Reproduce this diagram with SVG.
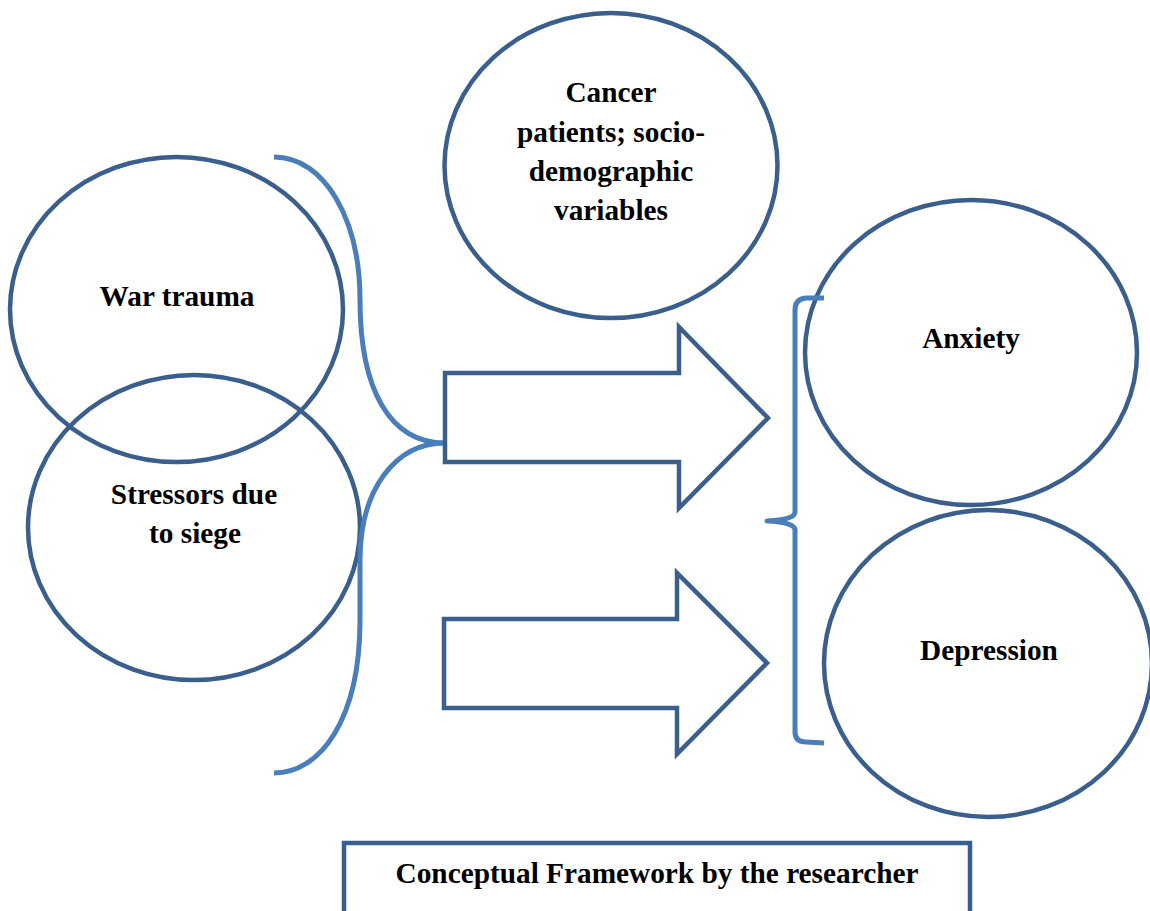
<svg xmlns="http://www.w3.org/2000/svg" width="1150" height="911" viewBox="0 0 1150 911">
<style>
.node{fill:none;stroke:#3a5f8c;stroke-width:4.5}
.arrow{fill:#fff;stroke:#3a5f8c;stroke-width:4.5;stroke-linejoin:miter}
.brace{fill:none;stroke:#4a7ebb;stroke-width:5;stroke-linejoin:round}
.lbl{font-family:"Liberation Serif","Times New Roman",serif;font-weight:bold;font-size:29.3px;fill:#000;text-anchor:middle}
</style>
<rect width="1150" height="911" fill="#fff"/>
<g id="war-trauma">
<ellipse class="node" cx="176.5" cy="309.5" rx="166.5" ry="152.5"/>
<text class="lbl" x="177" y="306">War trauma</text>
</g>
<g id="stressors">
<ellipse class="node" cx="194" cy="527.5" rx="166" ry="152.5"/>
<text class="lbl" x="194" y="504">Stressors due</text>
<text class="lbl" x="195" y="543">to siege</text>
</g>
<g id="cancer">
<ellipse class="node" cx="611" cy="165.5" rx="166.5" ry="152.5"/>
<text class="lbl" x="611" y="102">Cancer</text>
<text class="lbl" x="611" y="141.5">patients; socio-</text>
<text class="lbl" x="611" y="180.5">demographic</text>
<text class="lbl" x="611" y="220">variables</text>
</g>
<g id="anxiety">
<ellipse class="node" cx="971" cy="352.5" rx="166" ry="152.5"/>
<text class="lbl" x="971" y="348">Anxiety</text>
</g>
<g id="depression">
<ellipse class="node" cx="988" cy="663.5" rx="164" ry="153.5"/>
<text class="lbl" x="989" y="660">Depression</text>
</g>
<g id="connectors">
<path class="brace" d="M274,157 C325,157 360,220 360,300 C360,390 390,443 445,443"/>
<path class="brace" d="M445,443 C395,443 360,490 360,560 L360,620 C360,720 320,773 274,773"/>
<path class="brace" d="M824,298 L806,298 Q795,299 795,310 L795,512 Q795,520 767,521 Q795,522 795,530 L795,732 Q795,742 806,742 L824,743"/>
<polygon class="arrow" points="445,373 679,373 679,327 768,418 679,508 679,462 445,462"/>
<polygon class="arrow" points="444,619 677,619 677,573 767,663 677,754 677,708 444,708"/>
</g>
<g id="caption">
<rect x="344" y="843" width="626" height="90" fill="#fff" stroke="#3a5f8c" stroke-width="4.5"/>
<text class="lbl" x="657" y="883">Conceptual Framework by the researcher</text>
</g>
</svg>
